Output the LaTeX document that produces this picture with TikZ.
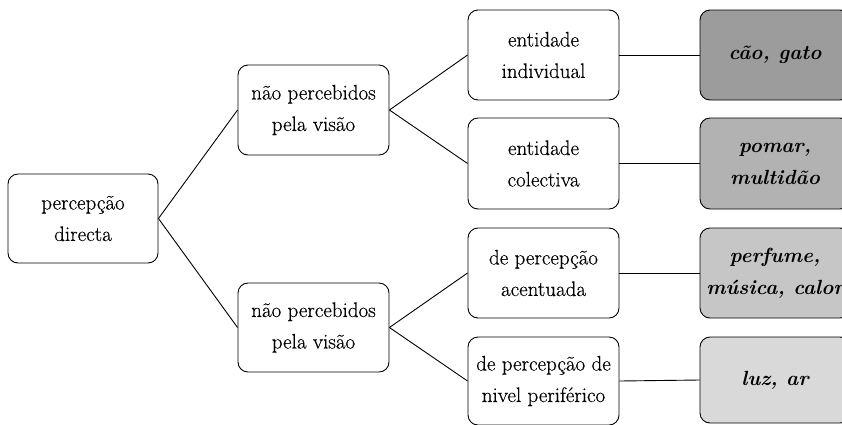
\documentclass[tikz,border=0pt]{standalone}
\usepackage{fontspec}
\setmainfont{Latin Modern Roman}
\newfontfamily\boxfont{Latin Modern Roman}[FakeBold=0.35]
\begin{document}
\begin{tikzpicture}[x=1pt,y=-1pt,
  box/.style={draw=black,line width=0.9pt,rounded corners=10pt,fill=white,
    minimum width=151pt,minimum height=90pt,align=center,inner sep=2pt,
    font=\boxfont\fontsize{21}{31.5}\selectfont},
  ex/.style={box,minimum width=150pt,font=\rmfamily\fontsize{20.5}{32}\selectfont\bfseries\itshape},
  link/.style={draw=black,line width=0.9pt}]
\useasboundingbox (0,0) rectangle (842,424);
\node[box,minimum width=150pt,minimum height=89pt] (root) at (83,218.5) {percepção\\directa};
\node[box] (a) at (313.5,110) {não percebidos\\pela visão};
\node[box,minimum height=89pt] (b) at (313.5,327.5) {não percebidos\\pela visão};
\node[box] (a1) at (543.5,55) {entidade\\individual};
\node[box,minimum height=91pt] (a2) at (543.5,163.5) {entidade\\colectiva};
\node[box] (b1) at (543.5,273) {de percepção\\acentuada};
\node[box,minimum height=88pt] (b2) at (543.5,381) {de percepção de\\nivel periférico};
\node[ex,fill={rgb,255:red,156;green,156;blue,156}] (e1) at (775,55) {cão, gato};
\node[ex,minimum height=91pt,fill={rgb,255:red,178;green,178;blue,178}] (e2) at (775,163.5) {pomar,\\multidão};
\node[ex,fill={rgb,255:red,198;green,198;blue,198}] (e3) at (775,273) {perfume,\\música, calor};
\node[ex,minimum height=86pt,fill={rgb,255:red,217;green,217;blue,217}] (e4) at (775,380) {luz, ar};
\draw[link] (root.east) -- (a.west);
\draw[link] (root.east) -- (b.west);
\draw[link] (a.east) -- (a1.west);
\draw[link] (a.east) -- (a2.west);
\draw[link] (b.east) -- (b1.west);
\draw[link] (b.east) -- (b2.west);
\draw[link] (a1.east) -- (e1.west);
\draw[link] (a2.east) -- (e2.west);
\draw[link] (b1.east) -- (e3.west);
\draw[link] (b2.east) -- (e4.west);
\end{tikzpicture}
\end{document}
